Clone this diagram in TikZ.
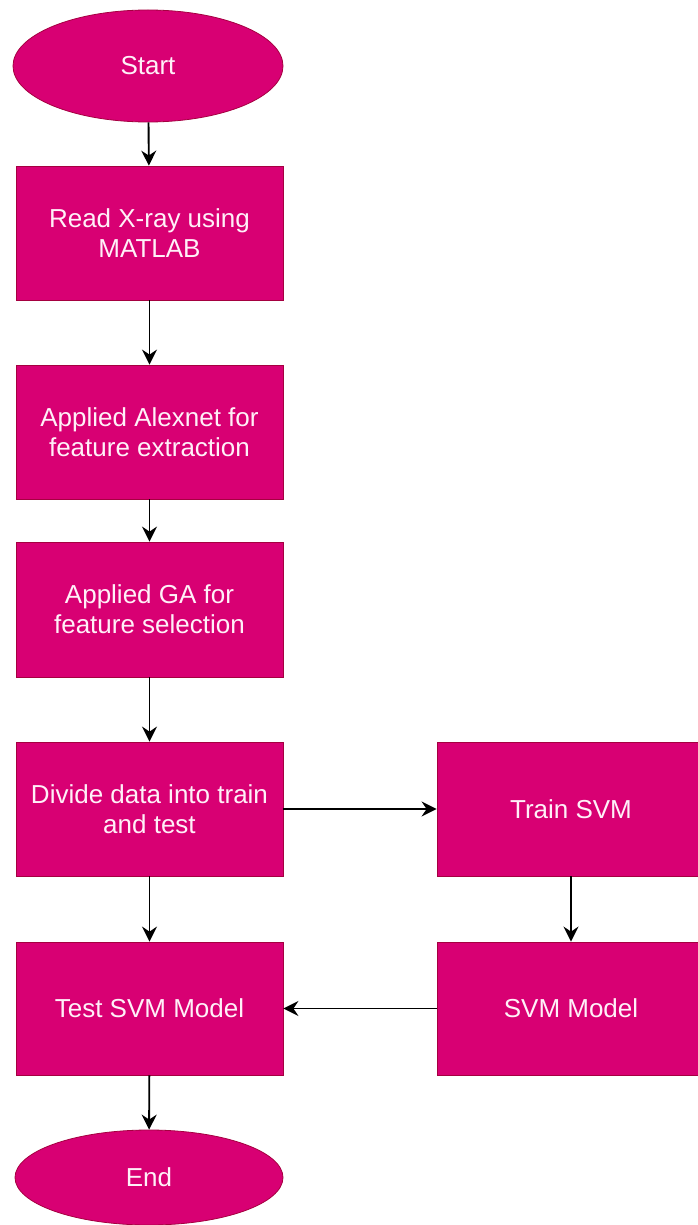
\documentclass[tikz,border=0pt]{standalone}
\usepackage{fontspec}
\setmainfont{Liberation Sans}
\usetikzlibrary{shapes.geometric,arrows.meta}
\definecolor{boxfill}{HTML}{D80073}
\definecolor{boxline}{HTML}{A50040}
\definecolor{boxtext}{HTML}{FFF0F8}
\begin{document}
\begin{tikzpicture}[x=1pt,y=-1pt,
  stepbox/.style={rectangle,draw=boxline,fill=boxfill,line width=0.8pt,text=boxtext,
    minimum width=267pt,minimum height=134pt,inner sep=0pt,align=center,
    font=\fontsize{26}{30}\selectfont},
  term/.style={ellipse,draw=boxline,fill=boxfill,line width=0.8pt,text=boxtext,
    inner sep=0pt,font=\fontsize{26}{30}\selectfont},
  conn/.style={draw=black,line width=1.9pt,-{Stealth[length=15pt,width=15pt,inset=5pt]}}]
\useasboundingbox (0,0) rectangle (697,1225);
\fill[white] (0,0) rectangle (697,1225);
\node[term,minimum width=270pt,minimum height=112pt] (start) at (148,66) {Start};
\node[stepbox] (b1) at (149.5,233) {Read X-ray using\\MATLAB};
\node[stepbox] (b2) at (149.5,432) {Applied Alexnet for\\feature extraction};
\node[stepbox,minimum height=135pt] (b3) at (149.5,609.5) {Applied GA for\\feature selection};
\node[stepbox] (b4) at (149.5,809) {Divide data into train\\and test};
\node[stepbox,minimum width=268pt] (train) at (571,809) {Train SVM};
\node[stepbox,minimum width=268pt,minimum height=133pt] (model) at (571,1008.5) {SVM Model};
\node[stepbox,minimum height=133pt] (test) at (149.5,1008.5) {Test SVM Model};
\node[term,minimum width=268pt,minimum height=95pt] (end) at (149,1177.5) {End};
\draw[conn] (start) -- (b1);
\draw[conn] (b1) -- (b2);
\draw[conn] (b2) -- (b3);
\draw[conn] (b3) -- (b4);
\draw[conn] (b4) -- (train);
\draw[conn] (train) -- (model);
\draw[conn] (model) -- (test);
\draw[conn] (b4) -- (test);
\draw[conn] (test) -- (end);
\end{tikzpicture}
\end{document}
